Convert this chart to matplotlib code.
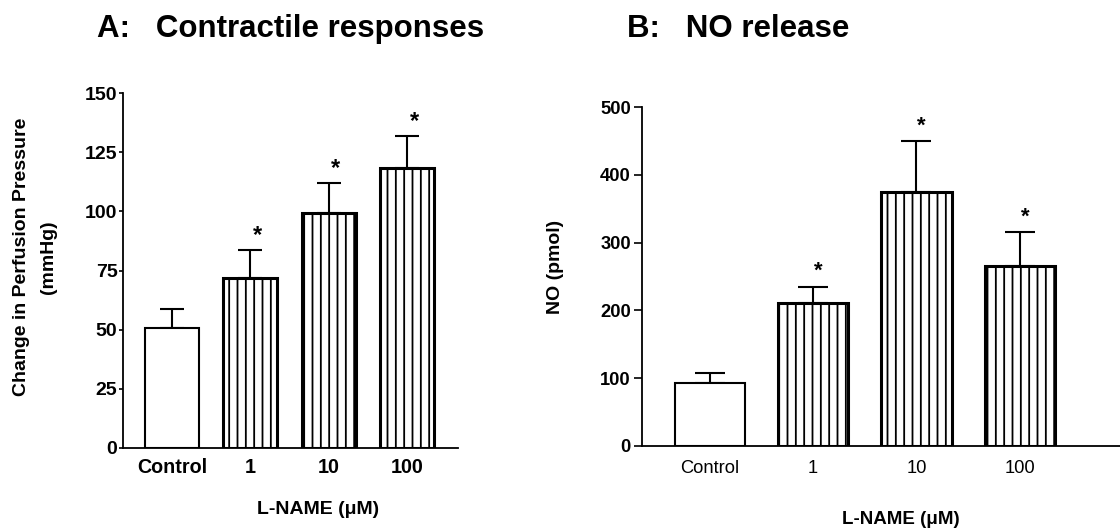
import matplotlib
matplotlib.use("Agg")
import matplotlib.pyplot as plt
import numpy as np

# data
groups = ["Control", "1", "10", "100"]
pressure = [50.7, 71.7, 99.1, 118.2]
pressure_sem = [8.0, 12.0, 12.7, 13.5]
no_release = [93, 211, 374, 265]
no_sem = [14, 24, 76, 50]
significant = [False, True, True, True]

plt.rcParams["font.family"] = ["Liberation Sans", "DejaVu Sans"]
plt.rcParams["hatch.linewidth"] = 1.3
plt.rcParams["hatch.color"] = "black"

W, H = 1120, 529
fig = plt.figure(figsize=(W / 100, H / 100), dpi=100)


def px_axes(x0, x1, ybot, ytop):
    return fig.add_axes([x0 / W, 1 - ybot / H, (x1 - x0) / W, (ybot - ytop) / H])


def draw_bars(ax, values, sems, width, edge_lw, capsize):
    x = np.arange(len(values))
    for i, (v, s) in enumerate(zip(values, sems)):
        hatched = i > 0
        ax.bar(x[i], v, width=width, color="white", edgecolor="black",
               linewidth=edge_lw if hatched else 1.5,
               hatch="||" if hatched else None, zorder=2)
        ax.errorbar(x[i], v, yerr=[[0], [s]], color="black", lw=1.5,
                    capsize=capsize, capthick=1.5, zorder=1)
    return x


# ---- panel A
ax1 = px_axes(123, 458, 448, 93)
x = draw_bars(ax1, pressure, pressure_sem, 0.69, 2.2, 8.5)
for i in range(len(x)):
    if significant[i]:
        ax1.text(x[i] + 0.09, pressure[i] + pressure_sem[i] + 3.5, "*",
                 ha="center", va="baseline", fontsize=17, fontweight="bold")
ax1.set_xlim(-0.626, 3.65)
ax1.set_ylim(0, 150)
ax1.set_yticks([0, 25, 50, 75, 100, 125, 150])
ax1.set_xticks(x)
ax1.set_xticklabels(groups, fontweight="bold", fontsize=14.2)
for lab in ax1.get_yticklabels():
    lab.set_fontweight("bold")
    lab.set_fontsize(14)
ax1.tick_params(axis="x", length=0, pad=7)
ax1.tick_params(axis="y", length=3, width=1.2, pad=1)
for s in ["top", "right"]:
    ax1.spines[s].set_visible(False)
ax1.spines["left"].set_linewidth(1.3)
ax1.spines["bottom"].set_linewidth(1.3)

fig.text(97 / W, 1 - 37 / H, "A:   Contractile responses", fontsize=22.5,
         fontweight="bold", ha="left", va="baseline")
fig.text(22 / W, 1 - 257 / H, "Change in Perfusion Pressure", rotation=90,
         fontsize=14, fontweight="bold", ha="center", va="center")
fig.text(48 / W, 1 - 257 / H, "(mmHg)", rotation=90,
         fontsize=14, fontweight="bold", ha="center", va="center")
fig.text(318 / W, 1 - 510 / H, "L-NAME (\u03bcM)", fontsize=14,
         fontweight="bold", ha="center", va="center")

# ---- panel B
ax2 = px_axes(642, 1125, 446, 107)
x = draw_bars(ax2, no_release, no_sem, 0.68, 2.2, 10.5)
for i in range(len(x)):
    if significant[i]:
        ax2.text(x[i] + 0.05, no_release[i] + no_sem[i] + 14, "*",
                 ha="center", va="baseline", fontsize=16, fontweight="bold")
ax2.set_xlim(-0.658, 4.02)
ax2.set_ylim(0, 500)
ax2.set_yticks([0, 100, 200, 300, 400, 500])
ax2.set_xticks(x)
ax2.set_xticklabels(groups, fontsize=13.2)
for lab in ax2.get_yticklabels():
    lab.set_fontweight("bold")
    lab.set_fontsize(13.2)
ax2.tick_params(axis="x", length=0, pad=10)
ax2.tick_params(axis="y", length=6, width=1.2, pad=2)
for s in ["top", "right"]:
    ax2.spines[s].set_visible(False)
ax2.spines["left"].set_linewidth(1.3)
ax2.spines["bottom"].set_linewidth(1.3)

fig.text(627 / W, 1 - 37 / H, "B:   NO release", fontsize=22.5,
         fontweight="bold", ha="left", va="baseline")
fig.text(556 / W, 1 - 267 / H, "NO (pmol)", rotation=90,
         fontsize=14, fontweight="bold", ha="center", va="center")
fig.text(901 / W, 1 - 520 / H, "L-NAME (\u03bcM)", fontsize=13.5,
         fontweight="bold", ha="center", va="center")

fig.savefig("out.png", dpi=100)
